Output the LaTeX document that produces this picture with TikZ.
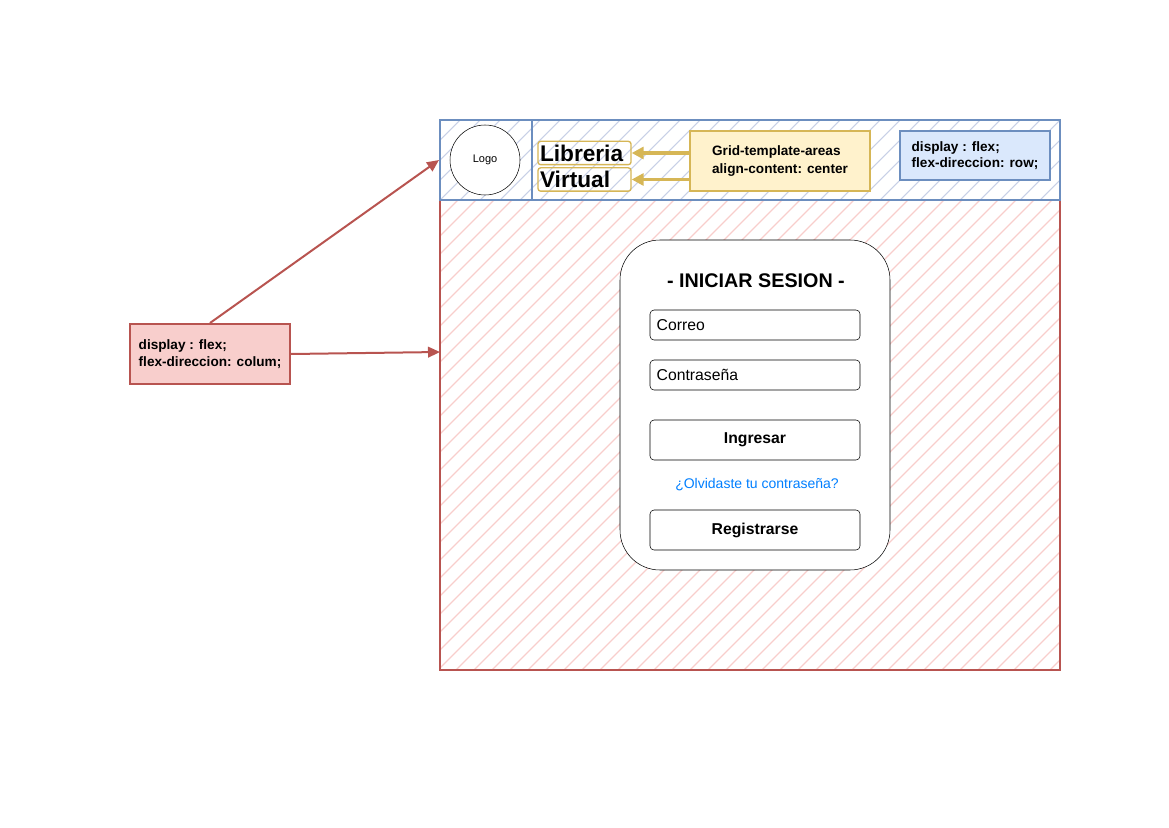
\documentclass[tikz,border=0pt]{standalone}
\usepackage{fontspec}
\setmainfont{Liberation Sans}
\usepackage{tikz}
\usetikzlibrary{arrows.meta, positioning}

\definecolor{redline}{HTML}{B85450}
\definecolor{redfill}{HTML}{F8CECC}
\definecolor{blueline}{HTML}{6C8EBF}
\definecolor{bluefill}{HTML}{DAE8FC}
\definecolor{yelline}{HTML}{D6B656}
\definecolor{yelfill}{HTML}{FFF2CC}
\definecolor{linkblue}{HTML}{007FFF}
\definecolor{bluehatch}{HTML}{C8D0E6}

\begin{document}
\begin{tikzpicture}[
  x=0.75pt, y=-0.75pt,
  every node/.style={font=\fontsize{10}{12}\selectfont},
  note/.style={draw, line width=1.5pt, align=left, inner sep=0pt,
               font=\fontsize{10.2}{12.5}\selectfont\bfseries},
  area/.style={draw, line width=1.5pt, inner sep=0pt},
  field/.style={draw, rounded corners=3pt, minimum width=157.5pt,
                minimum height=22.5pt, inner sep=0pt},
  btn/.style={field, minimum height=30pt,
              font=\fontsize{11.8}{13}\selectfont\bfseries},
  title/.style={draw=yelline, line width=1pt, rounded corners=2pt,
                text width=66.75pt, minimum height=17.5pt, inner ysep=0pt,
                inner xsep=1.5pt, align=left,
                font=\fontsize{17}{18}\selectfont\bfseries},
  redarrow/.style={-{Triangle[length=9pt,width=8pt]}, redline, line width=1.5pt},
  yelarrow/.style={-{Triangle[length=9pt,width=9pt]}, yelline, line width=2.5pt}
]
  \useasboundingbox (0,0) rectangle (1169,827);

  % body with red hatching
  \begin{scope}
    \clip (440,120) rectangle (1060,670);
    \foreach \x in {-120,-102,...,1060}
      \draw[redfill, line width=0.9pt] (\x,670) -- ++(550,-550);
  \end{scope}
  \node[area, draw=redline, minimum width=465pt, minimum height=412.5pt]
    (body) at (750,395) {};

  % header with blue hatching
  \fill[white] (440,120) rectangle (1060,200);
  \begin{scope}
    \clip (440,120) rectangle (1060,200);
    \foreach \x in {360,380,...,1060}
      \draw[bluehatch, line width=0.8pt] (\x,200) -- ++(80,-80);
  \end{scope}
  \node[area, draw=blueline, minimum width=465pt, minimum height=60pt]
    (header) at (750,160) {};
  \node[area, draw=blueline, line width=1pt, minimum width=69pt,
        minimum height=60pt] (logocell) at (486,160) {};
  \node[draw, circle, minimum size=52.5pt, inner sep=0pt, fill=white,
        font=\fontsize{8.25}{10}\selectfont] (logo) at (485,160) {Logo};

  \node[title] (lib) at (584.5,153) {Libreria};
  \node[title] (virt) at (584.5,179.5) {Virtual};

  \node[note, draw=yelline, fill=yelfill, minimum width=135pt,
        minimum height=45pt] (grid) at (780,161)
    {Grid-template-areas\\[1.5pt]align-content: center};
  \node[note, draw=blueline, fill=bluefill, minimum width=112.5pt,
        minimum height=36.75pt] (row) at (975,155.5)
    {display : flex;\\flex-direccion: row;};

  \draw[yelarrow] (grid.west |- lib.east) -- (lib.east);
  \draw[yelarrow] (grid.west |- virt.east) -- (virt.east);

  % column note
  \node[note, draw=redline, fill=redfill, minimum width=120pt,
        minimum height=45pt] (col) at (210,354)
    {display : flex;\\flex-direccion: colum;};
  \coordinate (colpt) at (440,352);
  \draw[redarrow] (col.north) -- (header.west);
  \draw[redarrow] (col.east) -- (colpt);

  % login card
  \node[draw, fill=white, rounded corners=30pt, minimum width=202.5pt,
        minimum height=247.5pt, inner sep=0pt] (card) at (755,405) {};
  \node[font=\fontsize{14.8}{16}\selectfont\bfseries] (head) at (756,281)
    {- INICIAR SESION -};
  \node[field] (mail) at (755,325) {};
  \node[right=5pt of mail.west, font=\fontsize{11.8}{13}\selectfont,
        inner sep=0pt] (mailtxt) {Correo};
  \node[field] (pass) at (755,375) {};
  \node[right=5pt of pass.west, font=\fontsize{11.8}{13}\selectfont,
        inner sep=0pt] (passtxt) {Contraseña};
  \node[btn] (enter) at (755,440) {Ingresar};
  \node[text=linkblue, font=\fontsize{10.5}{12}\selectfont] (forgot)
    at (757,485) {¿Olvidaste tu contraseña?};
  \node[btn] (signup) at (755,530) {Registrarse};
\end{tikzpicture}
\end{document}
